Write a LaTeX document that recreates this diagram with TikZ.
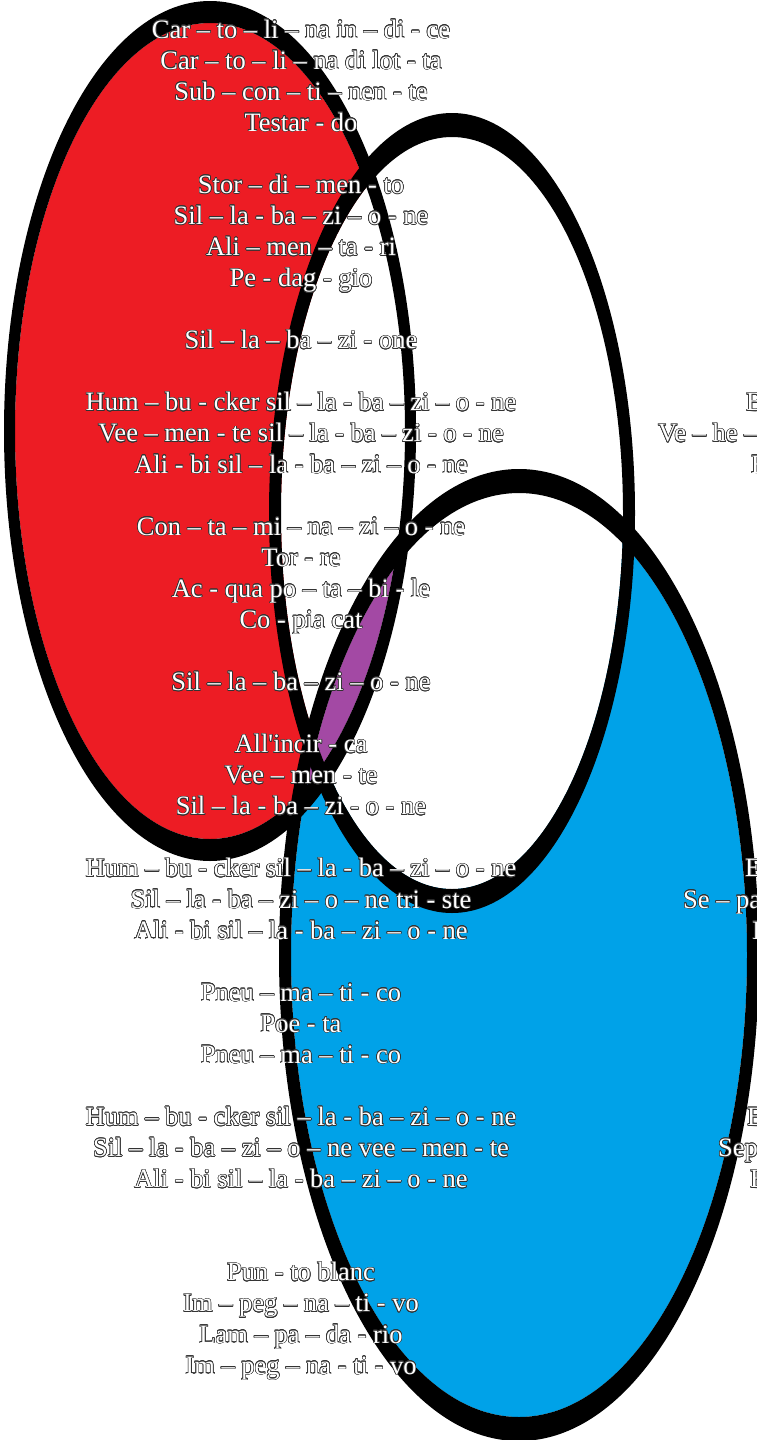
\documentclass[tikz,border=0pt]{standalone}
\usepackage{fontspec}
\setmainfont{Liberation Serif}
\newfontfamily\sylfont{Liberation Serif}[Ligatures=TeXOff]
\usepackage[copies]{contour}
\contourlength{0.6pt}
\contournumber{16}
\definecolor{paintred}{HTML}{ED1C24}
\definecolor{paintblue}{HTML}{00A2E8}
\definecolor{paintpurple}{HTML}{A349A4}
\newcommand{\sylt}[1]{\contour{black!80}{#1}}

\begin{document}
\begin{tikzpicture}[x=1pt, y=-1pt,
	syl/.style={font=\sylfont\fontsize{26.5}{31}\selectfont, text=white, anchor=base, inner sep=0pt},
	sylr/.style={syl, anchor=base west},
	ring/.style={fill=black, even odd rule}]
	\useasboundingbox (0,0) rectangle (757,1440);
	\fill[white] (0,0) rectangle (757,1440);
	\clip (0,0) rectangle (757,1440);
	\coordinate (redc) at (210,431);
	\coordinate (whitec) at (452,513);
	\coordinate (bluec) at (519,955);
	\fill[paintred] (redc) ellipse [x radius=195pt, y radius=408pt];
	\fill[paintblue] (bluec) ellipse [x radius=228pt, y radius=462pt];
	\fill[white] (whitec) ellipse [x radius=171pt, y radius=376pt];
	\begin{scope}
		\clip (redc) ellipse [x radius=195pt, y radius=408pt];
		\fill[paintpurple] (bluec) ellipse [x radius=228pt, y radius=462pt];
	\end{scope}
	\fill[ring] (redc) ellipse [x radius=206pt, y radius=430pt] (redc) ellipse [x radius=195pt, y radius=408pt];
	\fill[ring] (whitec) ellipse [x radius=183pt, y radius=400pt] (whitec) ellipse [x radius=171pt, y radius=376pt];
	\fill[ring] (bluec) ellipse [x radius=240pt, y radius=486pt] (bluec) ellipse [x radius=228pt, y radius=462pt];

	\node[syl] (t0) at (301,38) {\sylt{Car – to – li – na in – di - ce}};
	\node[syl] (t1) at (301,69.1) {\sylt{Car – to – li – na di lot - ta}};
	\node[syl] (t2) at (301,100.1) {\sylt{Sub – con – ti – nen - te}};
	\node[syl] (t3) at (301,131.2) {\sylt{Testar - do}};
	\node[syl] (t5) at (301,193.4) {\sylt{Stor – di – men - to}};
	\node[syl] (t6) at (301,224.4) {\sylt{Sil – la - ba – zi – o - ne}};
	\node[syl] (t7) at (301,255.5) {\sylt{Ali – men – ta - ri}};
	\node[syl] (t8) at (301,286.6) {\sylt{Pe - dag - gio}};
	\node[syl] (t10) at (301,348.7) {\sylt{Sil – la – ba – zi - one}};
	\node[syl] (t12) at (301,410.8) {\sylt{Hum – bu - cker sil – la - ba – zi – o - ne}};
	\node[syl] (t13) at (301,441.9) {\sylt{Vee – men - te sil – la - ba – zi - o - ne}};
	\node[syl] (t14) at (301,473) {\sylt{Ali - bi sil – la - ba – zi – o - ne}};
	\node[syl] (t16) at (301,535.1) {\sylt{Con – ta – mi – na – zi – o - ne}};
	\node[syl] (t17) at (301,566.2) {\sylt{Tor - re}};
	\node[syl] (t18) at (301,597.3) {\sylt{Ac - qua po – ta – bi - le}};
	\node[syl] (t19) at (301,628.3) {\sylt{Co - pia cat}};
	\node[syl] (t21) at (301,690.5) {\sylt{Sil – la – ba – zi – o - ne}};
	\node[syl] (t23) at (301,752.6) {\sylt{All'incir - ca}};
	\node[syl] (t24) at (301,783.7) {\sylt{Vee – men - te}};
	\node[syl] (t25) at (301,814.8) {\sylt{Sil – la - ba – zi - o - ne}};
	\node[syl] (t27) at (301,876.9) {\sylt{Hum – bu - cker sil – la - ba – zi – o - ne}};
	\node[syl] (t28) at (301,908) {\sylt{Sil – la - ba – zi – o – ne tri - ste}};
	\node[syl] (t29) at (301,939) {\sylt{Ali - bi sil – la - ba – zi – o - ne}};
	\node[syl] (t31) at (301,1001.2) {\sylt{Pneu – ma – ti - co}};
	\node[syl] (t32) at (301,1032.2) {\sylt{Poe - ta}};
	\node[syl] (t33) at (301,1063.3) {\sylt{Pneu – ma – ti - co}};
	\node[syl] (t35) at (301,1125.5) {\sylt{Hum – bu - cker sil – la - ba – zi – o - ne}};
	\node[syl] (t36) at (301,1156.5) {\sylt{Sil – la - ba – zi – o – ne vee – men - te}};
	\node[syl] (t37) at (301,1187.6) {\sylt{Ali - bi sil – la - ba – zi – o - ne}};
	\node[syl] (t40) at (301,1280.8) {\sylt{Pun - to blanc}};
	\node[syl] (t41) at (301,1311.9) {\sylt{Im – peg – na – ti - vo}};
	\node[syl] (t42) at (301,1343) {\sylt{Lam – pa – da - rio}};
	\node[syl] (t43) at (301,1374) {\sylt{Im – peg – na - ti - vo}};

	\node[sylr] (r12) at (746,410.8) {\sylt{B}};
	\node[sylr] (r13) at (658,441.9) {\sylt{Ve – he –}};
	\node[sylr] (r14) at (751,473) {\sylt{B}};
	\node[sylr] (r27) at (745,876.9) {\sylt{E}};
	\node[sylr] (r28) at (683,908) {\sylt{Se – pa}};
	\node[sylr] (r29) at (752,939) {\sylt{I}};
	\node[sylr] (r35) at (747,1125.5) {\sylt{B}};
	\node[sylr] (r36) at (718,1156.5) {\sylt{Sep}};
	\node[sylr] (r37) at (750,1187.6) {\sylt{B}};
\end{tikzpicture}
\end{document}
